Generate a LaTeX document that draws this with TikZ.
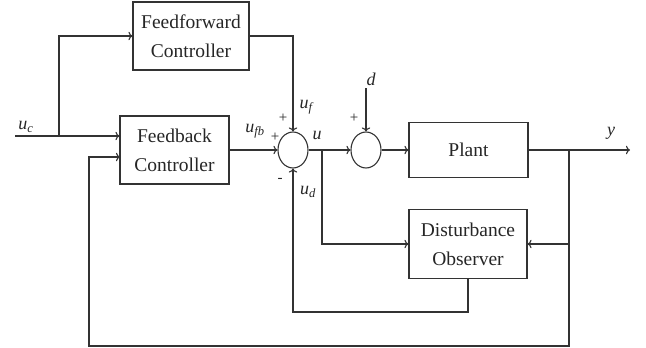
\documentclass[tikz,border=0pt]{standalone}
\usepackage{fontspec}
\setmainfont{Liberation Serif}
\usepackage{tikz}
\usetikzlibrary{arrows.meta,shapes.geometric}

\begin{document}
\begin{tikzpicture}[x=1pt, y=-1pt,
        line width=1.1pt, draw=black!80,
        block/.style={rectangle, draw, line width=1.1pt, text=black!85,
            font=\fontsize{19.5}{29}\selectfont, align=center, inner sep=0pt},
        junction/.style={ellipse, draw, line width=1.1pt, minimum width=30pt, minimum height=36pt, inner sep=0pt},
        sig/.style={font=\fontsize{18}{20}\selectfont\itshape, text=black!85, inner sep=1pt},
        sgn/.style={font=\fontsize{15}{15}\selectfont, text=black!85, inner sep=0pt},
        every path/.style={-{Stealth[length=6pt,width=4.5pt]}}
    ]
        \useasboundingbox (0,0) rectangle (646,348);

        \node[block, minimum width=116pt, minimum height=68pt] (ff) at (191,36) {Feedforward\\Controller};
        \node[block, minimum width=109pt, minimum height=68pt] (fb) at (174.5,150) {Feedback\\Controller};
        \node[junction] (s1) at (293,150) {};
        \node[junction] (s2) at (366,150) {};
        \node[block, minimum width=119pt, minimum height=55pt] (plant) at (468.5,150) {Plant};
        \node[block, minimum width=118pt, minimum height=69pt] (dob) at (468,244) {Disturbance\\Observer};

        \coordinate (in) at (15,136);
        \coordinate (br) at (59,136);
        \coordinate (ub) at (322,150);
        \coordinate (dtop) at (366,88);
        \coordinate (yb) at (569,150);
        \coordinate (out) at (630,150);
        \coordinate (dlow) at (293,312);
        \coordinate (fbk) at (89,346);
        \coordinate (fbin) at (120,157);

        \draw[->] (in) -- (in -| fb.west);
        \draw[->] (br) |- (ff.west);
        \draw[->] (ff.east) -| (s1.north);
        \draw[->] (fb.east) -- (s1.west);
        \draw[->] (s1.east) -- (s2.west);
        \draw[->] (ub) |- (dob.west);
        \draw[->] (dtop) -- (s2.north);
        \draw[->] (s2.east) -- (plant.west);
        \draw[->] (plant.east) -- (out);
        \draw[->] (yb) |- (dob.east);
        \draw[->] (yb) |- (fbk) |- (fbin);
        \draw[->] (dob.south) |- (dlow) -- (s1.south);

        \node[sig] (uc) at (26,127) {u\textsubscript{c}};
        \node[sig] (uf) at (306,107) {u\textsubscript{f}};
        \node[sig] (ufb) at (255,131) {u\textsubscript{fb}};
        \node[sig] (u) at (317,135) {u};
        \node[sig] (ud) at (308,192) {u\textsubscript{d}};
        \node[sig] (d) at (371,79) {d};
        \node[sig] (y) at (611,133) {y};
        \node[sgn] (p1) at (283,118) {+};
        \node[sgn] (p2) at (275,137) {+};
        \node[sgn] (m1) at (280,180) {-};
        \node[sgn] (p3) at (354,118) {+};
    \end{tikzpicture}
\end{document}
